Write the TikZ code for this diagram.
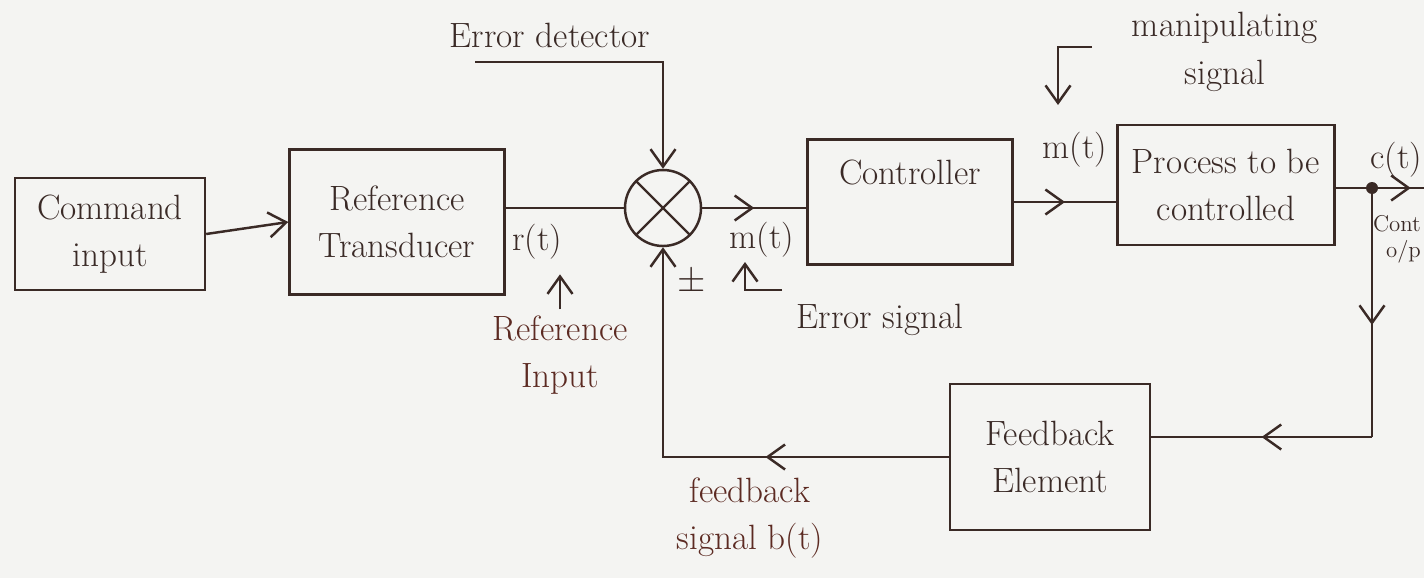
\documentclass[tikz,border=0pt]{standalone}
\usepackage{amsmath}
\usetikzlibrary{arrows.meta,positioning,calc,decorations.markings}
\definecolor{inkBrown}{HTML}{3A2A26}
\definecolor{inkRed}{HTML}{5C2A22}
\definecolor{paperGrey}{HTML}{F4F4F2}

\tikzset{
  handfont/.style={font=\fontsize{20}{27}\selectfont},
  blk/.style={draw=inkBrown,line width=1.4pt,align=center,text=inkBrown,handfont},
  sumjn/.style={circle,draw=inkBrown,line width=1.4pt,minimum size=1.52cm,inner sep=0pt},
  wire/.style={draw=inkBrown,line width=1.4pt},
  tip/.style={-{Straight Barb[length=3.5mm,width=5mm,line width=1.4pt]}},
  midarr/.style={postaction=decorate,decoration={markings,
      mark=at position #1 with {\arrow{Straight Barb[length=3.5mm,width=5mm,line width=1.4pt]}}}},
  lbl/.style={text=inkBrown,align=center,handfont},
  redlbl/.style={text=inkRed,align=center,handfont},
  smalllbl/.style={text=inkBrown,font=\fontsize{13}{16}\selectfont},
}

\begin{document}
\begin{tikzpicture}[x=0.02cm,y=-0.02cm]
  \useasboundingbox (0,0) rectangle (1424,578);
  \fill[paperGrey] (0,0) rectangle (1424,578);

  % blocks
  \node[blk,minimum width=3.8cm,minimum height=2.24cm] (cmd) at (110,234) {Command\\input};
  \node[blk,minimum width=4.3cm,minimum height=2.9cm] (ref) at (397,222) {Reference\\Transducer};
  \node[sumjn] (sum) at (663,208) {};
  \draw[wire] (sum.north west) -- (sum.south east) (sum.north east) -- (sum.south west);
  \node[blk,minimum width=4.1cm,minimum height=2.5cm] (ctrl) at (910,202) {Controller\\[0.25cm]};
  \node[blk,minimum width=4.34cm,minimum height=2.4cm] (proc) at (1226,185) {Process to be\\controlled};
  \node[blk,minimum width=4.0cm,minimum height=2.92cm] (fb) at (1050,457) {Feedback\\Element};

  % forward path
  \draw[wire,tip] (cmd.east) -- (ref.west);
  \draw[wire] (ref.east |- sum.west) -- (sum.west);
  \draw[wire,midarr=0.5] (sum.east) -- (ctrl.west |- sum.east);
  \draw[wire,midarr=0.5] (ctrl.east) -- (proc.west |- ctrl.east);
  \coordinate (outR) at (1440,188);
  \coordinate (tap) at (1372,188);
  \draw[wire,midarr=0.72] (proc.east |- tap) -- (outR);
  \fill[inkBrown] (tap) circle (6);

  % feedback path
  \coordinate (fbR) at (1372,437);
  \draw[wire,midarr=0.55] (tap) -- (fbR);
  \draw[wire,midarr=0.5] (fbR) -- (fbR -| fb.east);
  \draw[wire,tip,midarr=0.37] (fb.west) -| (sum.south);

  % error detector
  \node[lbl] (errdet) at (550,35) {Error detector};
  \coordinate (errL) at (475,62);
  \draw[wire,tip] (errL) -| (sum.north);

  % signal labels
  \node[lbl] (rt) at (537,242) {r(t)};
  \node[redlbl] (refin) at (560,355) {Reference\\Input};
  \draw[wire,tip] (refin.north) -- ++(0,-35);
  \node[lbl] (et) at (762,240) {m(t)};
  \node[lbl] (pm) at (692,282) {$\pm$};
  \node[lbl] (errsig) at (880,320) {Error signal};
  \coordinate (esA) at (782,290);
  \coordinate (esB) at (745,290);
  \draw[wire,tip] (esA) -- (esB) -- ++(0,-28);
  \node[lbl] (mt) at (1075,150) {m(t)};
  \node[lbl] (manip) at (1225,52) {manipulating\\signal};
  \coordinate (mpA) at (1092,47);
  \coordinate (mpB) at (1058,47);
  \draw[wire,tip] (mpA) -- (mpB) -- ++(0,58);
  \node[lbl,anchor=east,inner sep=1pt] (ct) at (1424,160) {c(t)};
  \node[smalllbl,anchor=east,inner sep=1pt] (contout) at (1423,224) {Cont};
  \node[smalllbl,anchor=east,inner sep=1pt] (op) at (1423,252) {o/p};
  \node[redlbl] (fbsig) at (750,518) {feedback\\signal b(t)};
\end{tikzpicture}
\end{document}
